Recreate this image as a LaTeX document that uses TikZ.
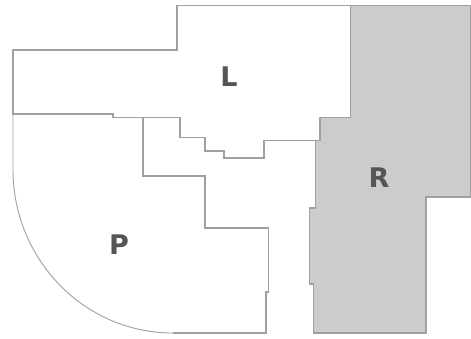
\documentclass[tikz,border=0pt]{standalone}
\usepackage{fontspec}
\setmainfont{DejaVu Sans}
\definecolor{edgegray}{HTML}{A0A0A0}
\definecolor{areagray}{HTML}{CCCCCC}
\definecolor{lettergray}{HTML}{555555}
\tikzset{
  plot area/.style={draw=edgegray,line width=1.15bp,line join=miter,fill=white},
  plot label/.style={font=\bfseries\fontsize{27bp}{27bp}\selectfont,text=lettergray,inner sep=0pt,anchor=center}
}
\begin{document}
\begin{tikzpicture}[x=1bp,y=-1bp]
\useasboundingbox (0,0) rectangle (471,338);
\fill[white] (0,0) rectangle (471,338);
% L
\draw[plot area] (13,50) -- (177,50) -- (177,5.5) -- (350.5,5.5) -- (350.5,117.5) -- (320,117.5) -- (320,140.5) -- (264,140.5) -- (264,158) -- (224,158) -- (224,151) -- (205,151) -- (205,137.5) -- (180,137.5) -- (180,117.5) -- (113,117.5) -- (113,114) -- (13,114) -- cycle;
% P
\fill[white] (13,114) -- (113,114) -- (113,117.5) -- (143,117.5) -- (143,176) -- (205,176) -- (205,228) -- (268.5,228) -- (268.5,292) -- (266,292) -- (266,333) -- (173,333) .. controls (83,333) and (13,258) .. (13,170) -- cycle;
\draw[plot area,fill=none] (13,114) -- (113,114) -- (113,117.5) -- (143,117.5) -- (143,176) -- (205,176) -- (205,228) -- (268.5,228) -- (268.5,292) -- (266,292) -- (266,333) -- (173,333);
\draw[plot area,fill=none,line width=0.9bp] (173,333) .. controls (83,333) and (13,258) .. (13,170) -- (13,114);
% R
\draw[plot area,fill=areagray] (350.5,5.5) -- (470.5,5.5) -- (470.5,197) -- (426,197) -- (426,333) -- (313.5,333) -- (313.5,284) -- (309.5,284) -- (309.5,208) -- (315.5,208) -- (315.5,140.5) -- (320,140.5) -- (320,117.5) -- (350.5,117.5) -- cycle;
\node[plot label] (labelL) at (229,77) {L};
\node[plot label] (labelR) at (379,178) {R};
\node[plot label] (labelP) at (119,245) {P};
\end{tikzpicture}
\end{document}
